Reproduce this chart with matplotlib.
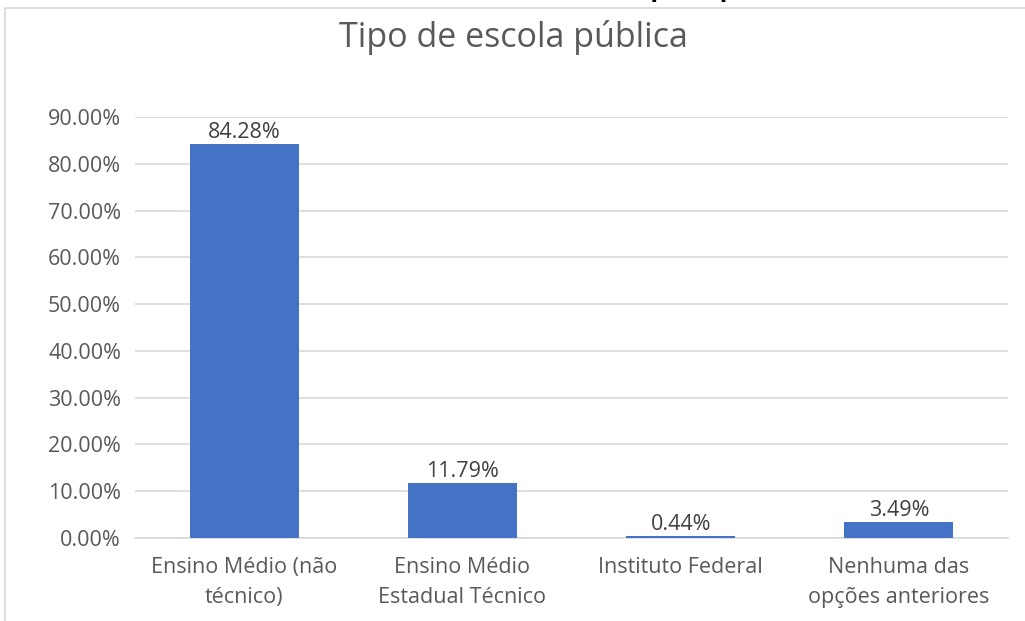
import matplotlib.pyplot as plt
from matplotlib.patches import Rectangle
from matplotlib.ticker import FuncFormatter

plt.rcParams['font.family'] = ['Open Sans', 'DejaVu Sans']

categorias = ['Ensino Médio (não\ntécnico)', 'Ensino Médio\nEstadual Técnico',
              'Instituto Federal', 'Nenhuma das\nopções anteriores']
valores = [84.28, 11.79, 0.44, 3.49]
ticks_y = [0, 10, 20, 30, 40, 50, 60, 70, 80, 90]

fig = plt.figure(figsize=(10.25, 6.21), dpi=100)
ax = fig.add_axes([135/1025, 1-538/621, (1008-135)/1025, (538-117)/621])

# moldura do grafico (cortada na parte de cima)
fig.patches.append(Rectangle((5/1025, -0.05), 1.1, 1-8/621+0.05, transform=fig.transFigure,
                             fill=False, edgecolor='#d9d9d9', linewidth=1.2))

# titulo do documento, cortado no topo
fig.text(0.47, 1+4/621, 'Gráfico 7 - Matriculados em Escola Pública por tipo de escola',
         ha='center', va='baseline', fontsize=20, fontweight='bold', color='black',
         family=['Liberation Sans', 'DejaVu Sans'])

x = range(len(categorias))
barras = ax.bar(x, valores, width=0.5, color='#4472C4', zorder=3)
for b, v in zip(barras, valores):
    ax.text(b.get_x() + b.get_width()/2, v + 1.3, f'{v:.2f}%', ha='center', va='baseline',
            fontsize=15.5, color='#404040')

ax.set_xlim(-0.5, 3.5)
ax.set_ylim(0, 90)
ax.set_yticks(ticks_y)
ax.yaxis.set_major_formatter(FuncFormatter(lambda v, p: f'{v:.2f}%'))
ax.set_xticks(list(x))
ax.set_xticklabels(categorias, fontsize=15.5, color='#595959', linespacing=1.55)
ax.tick_params(axis='y', labelsize=15.5, labelcolor='#595959', length=0, pad=10)
ax.tick_params(axis='x', length=0, pad=14)
ax.grid(axis='y', color='#d9d9d9', linewidth=1.2, zorder=0)
for s in ['top', 'right', 'left']:
    ax.spines[s].set_visible(False)
ax.spines['bottom'].set_color('#d9d9d9')
ax.spines['bottom'].set_linewidth(1.2)

fig.text(513/1025, 1-47/621, 'Tipo de escola pública', ha='center', va='baseline',
         fontsize=24.5, color='#595959')

fig.savefig('out.png', dpi=100)
